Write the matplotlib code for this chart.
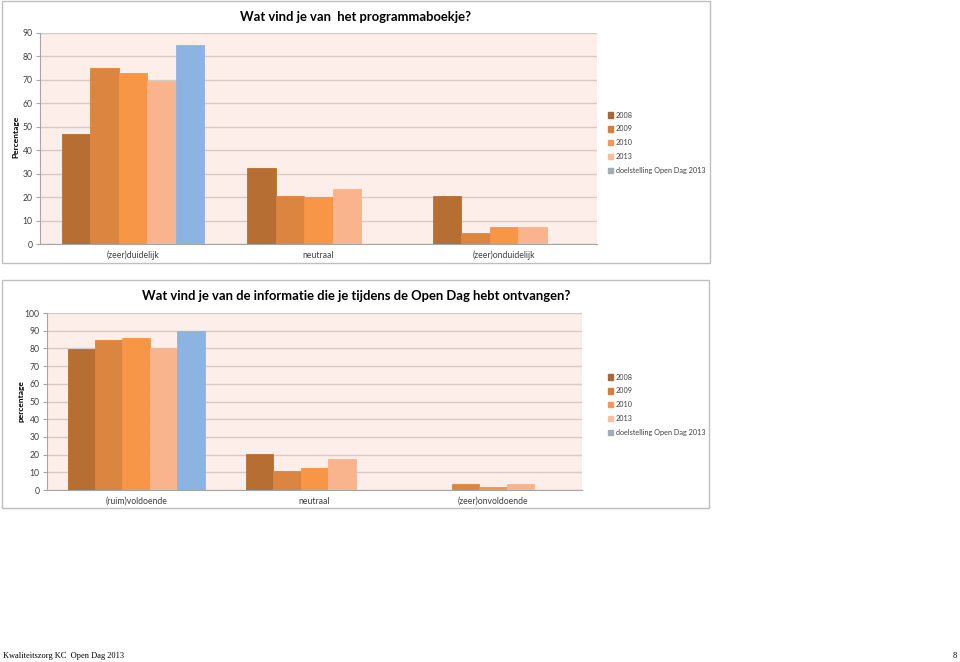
import matplotlib
matplotlib.use("Agg")
import matplotlib.pyplot as plt
from matplotlib.patches import Rectangle, Patch
import numpy as np

plt.rcParams['font.family'] = ['Lato', 'DejaVu Sans']

series = ["2008", "2009", "2010", "2013", "doelstelling Open Dag 2013"]
colors = ["#B76E33", "#DC8540", "#F79646", "#F9B48D", "#8DB3E2"]
legend_colors = ["#A8693A", "#D47F3F", "#F2995A", "#F7BFA0", "#A3ADB9"]

# Chart 1
cats1 = ["(zeer)duidelijk", "neutraal", "(zeer)onduidelijk"]
v1_2008 = [47, 32.5, 20.5]
v1_2009 = [75, 20.5, 4.5]
v1_2010 = [73, 20, 7.3]
v1_2013 = [69.5, 23.5, 7.2]
v1_doel = [85, None, None]
title1 = "Wat vind je van  het programmaboekje?"
ylabel1 = "Percentage"

# Chart 2
cats2 = ["(ruim)voldoende", "neutraal", "(zeer)onvoldoende"]
v2_2008 = [79.5, 20.5, None]
v2_2009 = [85, 11, 3.4]
v2_2010 = [86, 12.5, 1.9]
v2_2013 = [80, 17.5, 3.3]
v2_doel = [90, None, None]
title2 = "Wat vind je van de informatie die je tijdens de Open Dag hebt ontvangen?"
ylabel2 = "percentage"

footer_left = "Kwaliteitszorg KC  Open Dag 2013"
footer_right = "8"

W, H = 960, 662
fig = plt.figure(figsize=(W / 100, H / 100), dpi=100)
fig.patch.set_facecolor("white")

def fx(px):
    return px / W

def fy(py):
    return 1 - py / H

# chart frames
for (x0, y0, x1, y1) in [(2, 1, 710, 263), (2, 280, 709, 508)]:
    fig.patches.append(Rectangle((fx(x0), fy(y1)), fx(x1 - x0), (y1 - y0) / H,
                                 transform=fig.transFigure, facecolor="white",
                                 edgecolor="#BFBFBF", linewidth=1, zorder=-5))

def draw(ax, cats, data, ymax, title, title_xy, ylabel, ylab_xy, leg_xy):
    ax.set_zorder(5)
    ax.set_facecolor("#FDEEEA")
    n = len(data)
    w = 0.1535
    x = np.arange(len(cats))
    for i, (vals, c) in enumerate(zip(data, colors)):
        vv = [np.nan if v is None else v for v in vals]
        ax.bar(x + (i - (n - 1) / 2) * w, vv, width=w, color=c,
               edgecolor=c, linewidth=0.6, zorder=3)
    ax.set_xlim(-0.5, len(cats) - 0.5)
    ax.set_ylim(0, ymax)
    ax.set_yticks(np.arange(0, ymax + 1, 10))
    ax.yaxis.grid(True, color="#D5CAC6", linewidth=1.0, zorder=1)
    ax.set_axisbelow(True)
    for s in ["top", "right"]:
        ax.spines[s].set_visible(False)
    ax.spines["left"].set_color("#A6A6A6")
    ax.spines["bottom"].set_color("#A6A6A6")
    ax.tick_params(axis="y", labelsize=6.2, colors="#404040", length=3,
                   color="#A6A6A6", pad=2.5)
    ax.set_xticks(x)
    ax.set_xticklabels(cats)
    ax.tick_params(axis="x", length=0, labelsize=6.2, colors="#404040", pad=5)
    fig.text(fx(title_xy[0]), fy(title_xy[1]), title, ha="center", va="center",
             fontsize=9.4, fontweight="bold", color="black")
    fig.text(fx(ylab_xy[0]), fy(ylab_xy[1]), ylabel, ha="center", va="center",
             rotation=90, fontsize=6, fontweight="bold", color="black")
    handles = [Patch(facecolor=c, edgecolor=c) for c in legend_colors]
    fig.legend(handles, series, loc="upper left",
               bbox_to_anchor=(fx(leg_xy[0]), fy(leg_xy[1])),
               frameon=False, fontsize=5.2, handlelength=0.75, handleheight=0.75,
               handletextpad=0.35, labelspacing=0.95, borderpad=0,
               labelcolor="#404040")

ax1 = fig.add_axes([fx(40), fy(244), fx(597 - 40), (244 - 33) / H])
draw(ax1, cats1, [v1_2008, v1_2009, v1_2010, v1_2013, v1_doel], 90,
     title1, (355, 17), ylabel1, (16, 137), (604, 108))

ax2 = fig.add_axes([fx(47), fy(490), fx(582 - 47), (490 - 313) / H])
draw(ax2, cats2, [v2_2008, v2_2009, v2_2010, v2_2013, v2_doel], 100,
     title2, (356, 296), ylabel2, (21, 401), (604, 370))

fig.text(fx(3), fy(656), footer_left, ha="left", va="center", fontsize=6,
         family="Liberation Serif", color="black")
fig.text(fx(957), fy(656), footer_right, ha="right", va="center", fontsize=6,
         family="Liberation Serif", color="black")

fig.savefig("out.png", dpi=100, facecolor="white")
